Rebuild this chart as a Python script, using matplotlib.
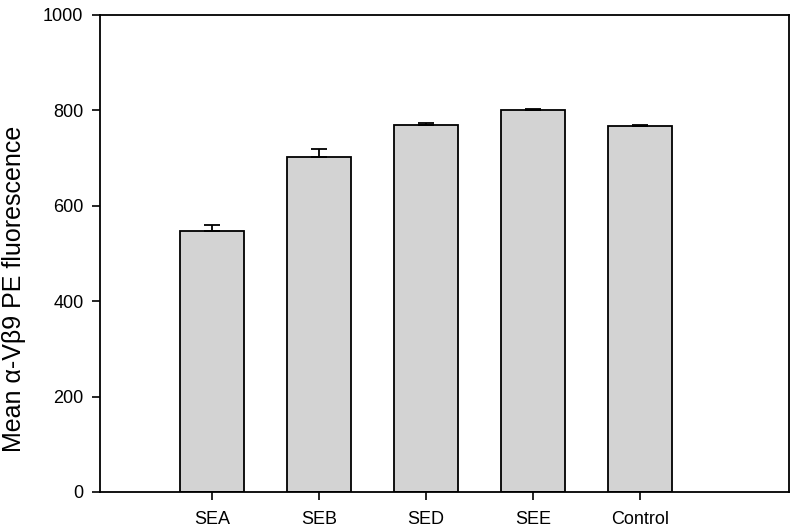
import matplotlib
matplotlib.use("Agg")
import matplotlib.pyplot as plt

plt.rcParams['font.family'] = ['Liberation Sans', 'DejaVu Sans']

groups = ["SEA", "SEB", "SED", "SEE", "Control"]
means = [547, 702, 770, 801, 767]
errs = [13, 17, 3, 2, 3]

fig = plt.figure(figsize=(7.94, 5.30), dpi=100)
ax = fig.add_axes([0.126, 0.0717, 0.8677, 0.90])

x = list(range(len(groups)))
ax.bar(x, means, width=0.6, color="#d3d3d3", edgecolor="black", linewidth=1.3, zorder=2)
ax.errorbar(x, means, yerr=[[0] * len(errs), errs], fmt="none", ecolor="black",
            elinewidth=1.3, capsize=5.5, capthick=1.3, zorder=3)

ax.set_xlim(-1.047, 5.39)
ax.set_ylim(0, 1000)
ax.set_xticks(x)
ax.set_xticklabels(groups)
ax.set_yticks([0, 200, 400, 600, 800, 1000])
ax.tick_params(axis="both", direction="out", length=6, width=1.2, labelsize=13)
ax.tick_params(axis="x", pad=8)
ax.tick_params(axis="y", pad=6)
for s in ax.spines.values():
    s.set_linewidth(1.3)
ax.set_ylabel("Mean α-Vβ9 PE fluorescence", fontsize=18)
ax.yaxis.set_label_coords(-0.107, 0.4256)

fig.savefig("out.png", dpi=100)
